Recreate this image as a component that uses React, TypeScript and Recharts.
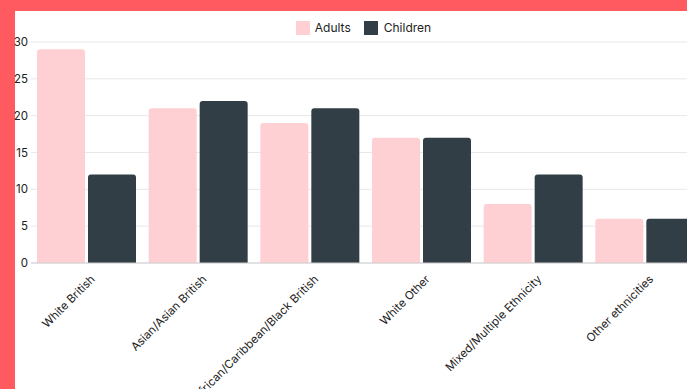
import React from "react";
import { BarChart, Bar, XAxis, YAxis, CartesianGrid, Legend } from "recharts";

const categories = [
  "White British",
  "Asian/Asian British",
  "African/Caribbean/Black British",
  "White Other",
  "Mixed/Multiple Ethnicity",
  "Other ethnicities",
];
const adults = [29, 21, 19, 17, 8, 6];
const children = [12, 22, 21, 17, 12, 6];
const yTicks = [0, 5, 10, 15, 20, 25, 30];

const data = categories.map((name, i) => ({ name, Adults: adults[i], Children: children[i] }));

const FONT = "Inter, 'Noto Sans', sans-serif";

const XTick = (props: any) => {
  const { x, y, payload } = props;
  return (
    <g transform={`translate(${x + 6},${y + 6})`}>
      <text
        transform="rotate(-45)"
        textAnchor="end"
        fontSize={11.5}
        fontFamily={FONT}
        fill="#222"
        dy="0.35em"
      >
        {payload.value}
      </text>
    </g>
  );
};

const LegendContent = () => (
  <div style={{ display: "flex", justifyContent: "center", alignItems: "center", fontFamily: FONT, fontSize: 12, color: "#222" }}>
    <span style={{ display: "inline-block", width: 14, height: 14, background: "#ffd0d3", marginRight: 5 }} />
    <span style={{ marginRight: 13 }}>Adults</span>
    <span style={{ display: "inline-block", width: 14, height: 14, background: "#323e46", marginRight: 6 }} />
    <span>Children</span>
  </div>
);

export default function App() {
  return (
    <div style={{ position: "fixed", left: 0, top: 0, width: 687, height: 389, background: "#ff5a5f", overflow: "hidden" }}>
      <div style={{ position: "absolute", left: 15, top: 11, width: 720, height: 400, background: "#ffffff" }} />
      <div style={{ position: "absolute", left: 0, top: 0 }}>
        <BarChart
          width={728}
          height={389}
          data={data}
          margin={{ top: 0, right: 27, bottom: 6, left: 0 }}
          barCategoryGap={6}
          barGap={3}
        >
          <CartesianGrid vertical={false} stroke="#e8e8e8" />
          <Legend
            verticalAlign="top"
            height={42}
            content={() => <LegendContent />}
            wrapperStyle={{ top: 20, left: 13 }}
          />
          <XAxis
            dataKey="name"
            interval={0}
            height={120}
            tickLine={false}
            axisLine={{ stroke: "#cfcfcf" }}
            tick={<XTick />}
          />
          <YAxis
            width={31}
            domain={[0, 30]}
            ticks={yTicks}
            axisLine={false}
            tickLine={false}
            tickSize={0}
            tickMargin={3}
            tick={{ fontSize: 11.5, fontFamily: FONT, fill: "#222" }}
          />
          <Bar dataKey="Adults" fill="#ffd0d3" radius={[3, 3, 0, 0]} isAnimationActive={false} />
          <Bar dataKey="Children" fill="#323e46" radius={[3, 3, 0, 0]} isAnimationActive={false} />
        </BarChart>
      </div>
    </div>
  );
}
